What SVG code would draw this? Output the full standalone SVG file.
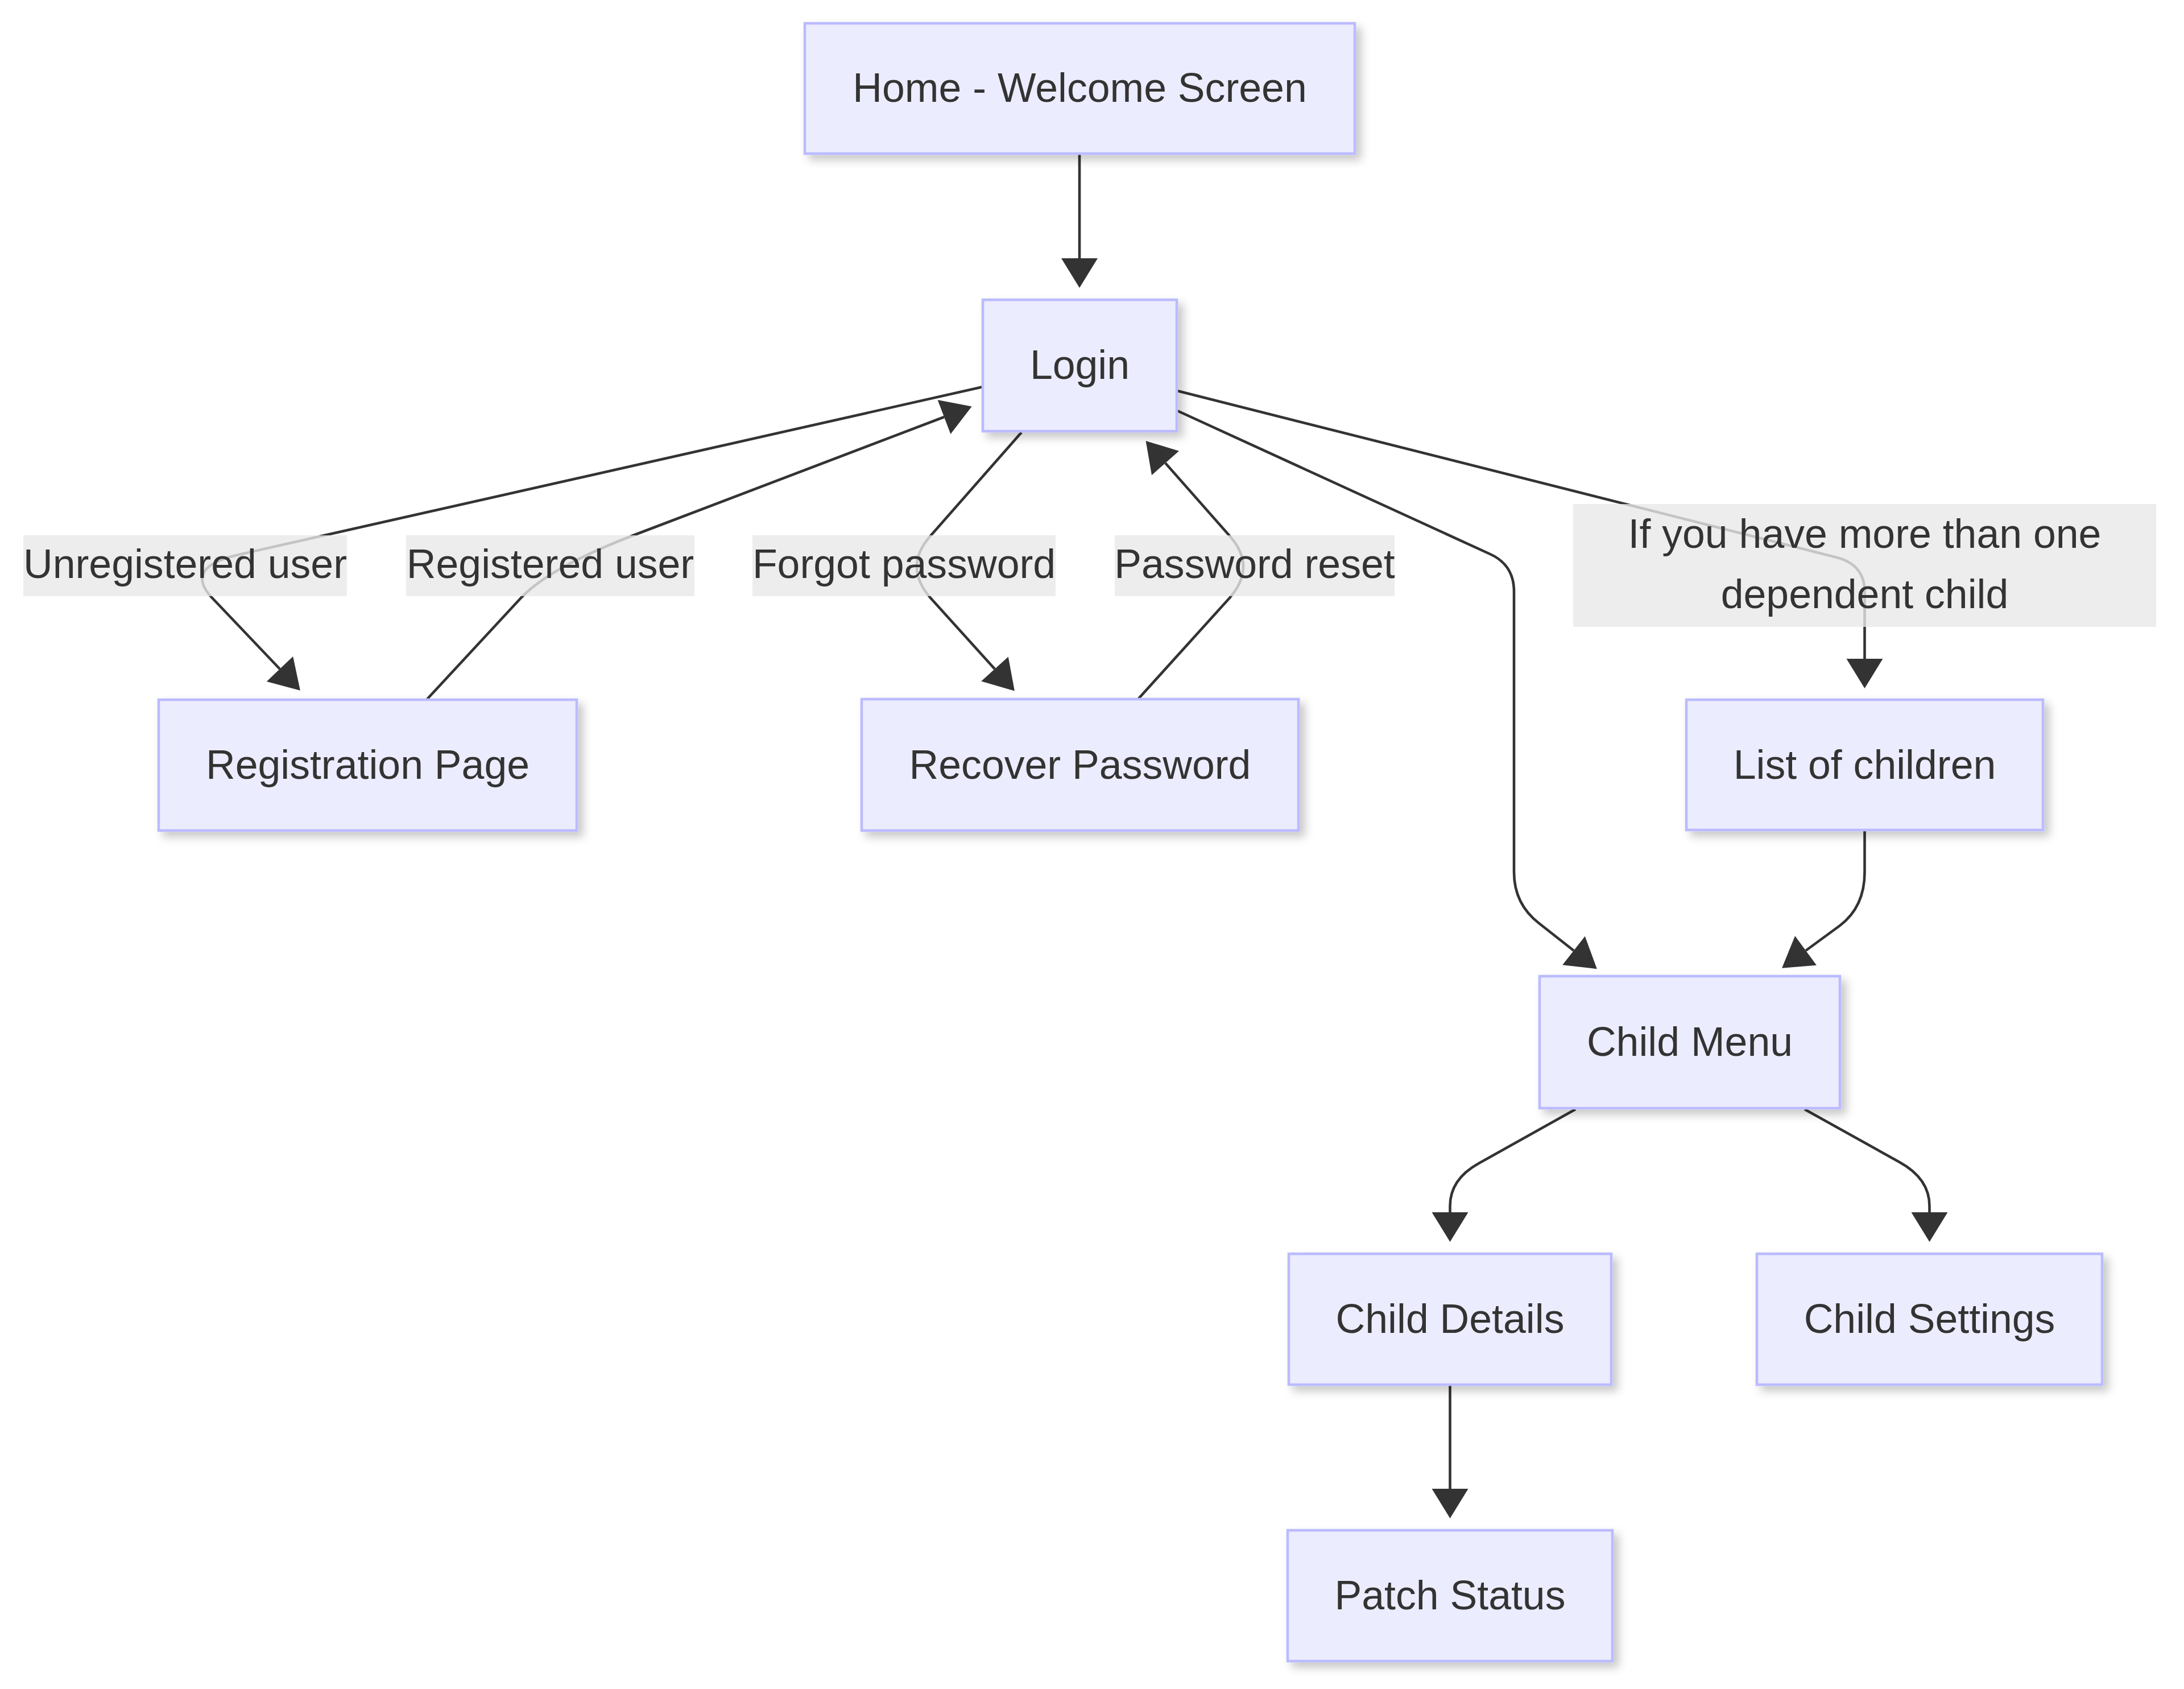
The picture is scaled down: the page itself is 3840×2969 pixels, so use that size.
<svg xmlns="http://www.w3.org/2000/svg" width="3840" height="2969" viewBox="0 0 3840 2969">
<defs>
<style>
.node rect{fill:#ECECFF;stroke:#BBBBFF;stroke-width:4.6;filter:url(#sh);}
.node text,.lbl text{font-family:"Liberation Sans",Arial,Helvetica,sans-serif;font-size:71.6px;fill:#333333;text-anchor:middle;}
.edge{fill:none;stroke:#333333;stroke-width:4.6;marker-end:url(#arr);}
.lbl rect{fill:#E8E8E8;fill-opacity:0.8;}
</style>
<filter id="sh" x="-10%" y="-10%" width="130%" height="140%">
<feDropShadow dx="9" dy="9" stdDeviation="8" flood-color="#000000" flood-opacity="0.22"/>
</filter>
<marker id="arr" markerUnits="userSpaceOnUse" markerWidth="52" markerHeight="64" refX="0" refY="32" orient="auto" overflow="visible">
<path d="M0,0 L52,32 L0,64 z" fill="#333333"/>
</marker>
</defs>
<rect x="0" y="0" width="3840" height="2969" fill="#FFFFFF"/>
<g id="connectors">
<path class="edge" d="M1898,272 L1898,454"/>
<path class="edge" d="M1728,680 L420,975 Q322,997 373,1051 L492,1176"/>
<path class="edge" d="M751,1229 L916,1051 Q966,998 1111,942 L1660,733"/>
<path class="edge" d="M1796,760 L1636,942 Q1588,996 1636,1051 L1749,1176"/>
<path class="edge" d="M2001,1229 L2162,1051 Q2210,996 2162,942 L2049,814"/>
<path class="edge" d="M2070,687 L3230,980 Q3278.5,993 3278.5,1040 L3278.5,1158"/>
<path class="edge" d="M2070,722 L2620,974 Q2662,993 2662,1040 L2662,1533 Q2662,1589 2706,1623 L2767,1671"/>
<path class="edge" d="M3278.5,1461 L3278.5,1533 Q3278.5,1594 3235,1627 L3175,1671"/>
<path class="edge" d="M2770,1950 L2600,2045 Q2549.5,2073 2549.5,2120 L2549.5,2131"/>
<path class="edge" d="M3173,1950 L3340,2043 Q3392.5,2072 3392.5,2120 L3392.5,2131"/>
<path class="edge" d="M2549.5,2436 L2549.5,2617"/>
</g>
<g id="edge-labels">
<g class="lbl" id="lbl-unregistered"><rect x="41" y="941" width="569" height="107"/><text x="325.5" y="1016">Unregistered user</text></g>
<g class="lbl" id="lbl-registered"><rect x="714" y="941" width="507" height="107"/><text x="967.5" y="1016">Registered user</text></g>
<g class="lbl" id="lbl-forgot"><rect x="1323" y="941" width="533" height="107"/><text x="1589.5" y="1016">Forgot password</text></g>
<g class="lbl" id="lbl-reset"><rect x="1960" y="941" width="492" height="107"/><text x="2206" y="1016">Password reset</text></g>
<g class="lbl" id="lbl-more"><rect x="2766" y="886" width="1025" height="216"/><text x="3278.5" y="963">If you have more than one</text><text x="3278.5" y="1069">dependent child</text></g>
</g>
<g class="node" id="home"><rect x="1415" y="41" width="967" height="229"/><text x="1898.5" y="179">Home - Welcome Screen</text></g>
<g class="node" id="login"><rect x="1728" y="527" width="341" height="231"/><text x="1898.5" y="666">Login</text></g>
<g class="node" id="registration"><rect x="279" y="1230" width="735" height="230"/><text x="646.5" y="1369">Registration Page</text></g>
<g class="node" id="recover"><rect x="1515" y="1229" width="768" height="231"/><text x="1899" y="1369">Recover Password</text></g>
<g class="node" id="children"><rect x="2965" y="1230" width="627" height="229"/><text x="3278.5" y="1369">List of children</text></g>
<g class="node" id="childmenu"><rect x="2707" y="1716" width="528" height="232"/><text x="2971" y="1856">Child Menu</text></g>
<g class="node" id="childdetails"><rect x="2266" y="2204" width="567" height="230"/><text x="2549.5" y="2343">Child Details</text></g>
<g class="node" id="childsettings"><rect x="3089" y="2204" width="607" height="230"/><text x="3392.5" y="2343">Child Settings</text></g>
<g class="node" id="patchstatus"><rect x="2264" y="2690" width="571" height="230"/><text x="2549.5" y="2829">Patch Status</text></g>
</svg>
